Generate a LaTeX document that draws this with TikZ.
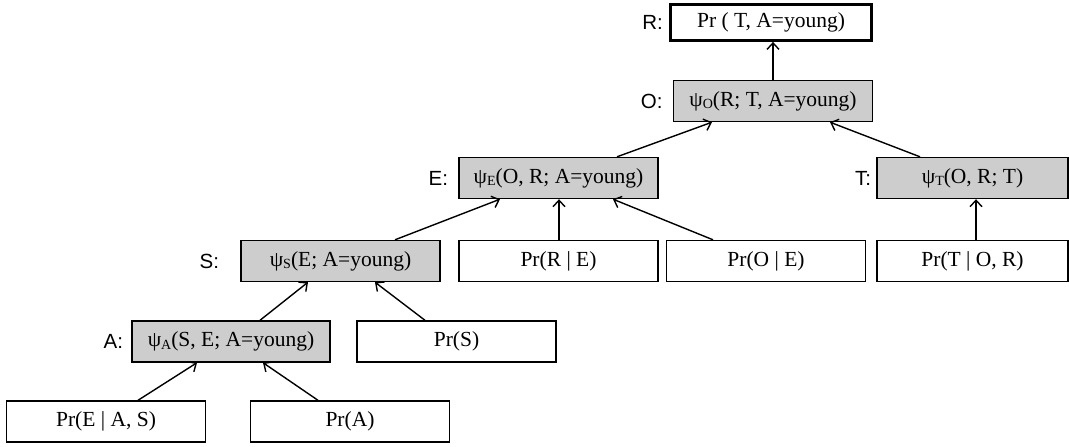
\documentclass[tikz,border=0pt]{standalone}
\usepackage{fontspec}
\setmainfont{Liberation Serif}
\newfontfamily\lblfont{Liberation Sans}
\usetikzlibrary{arrows.meta,positioning}
\definecolor{boxgray}{RGB}{205,205,205}
\newcommand{\psis}[1]{ψ\raisebox{-0.12em}{\fontsize{14}{14}\selectfont #1}}

\begin{document}
\begin{tikzpicture}[x=1pt, y=-1pt, >={Straight Barb[length=6.5pt,width=12pt]},
    every node/.style={font=\fontsize{21.5}{26}\selectfont},
    cpt/.style={draw, line width=1.4pt, fill=white, minimum width=199pt, minimum height=41pt, inner sep=0pt},
    fac/.style={cpt, fill=boxgray},
    lbl/.style={font=\lblfont\fontsize{20.5}{24}\selectfont, inner sep=0pt}]
                \useasboundingbox (0,0) rectangle (1069,447);

                \node[cpt, line width=2.8pt, minimum width=201pt, minimum height=36pt] (R) at (771,22.5) {Pr ( T, A=young)};
                \node[fac] (O) at (773,101)   {\psis{O}(R; T, A=young)};
                \node[fac] (E) at (558.5,178) {\psis{E}(O, R; A=young)};
                \node[fac, minimum width=191pt] (T) at (972.5,178) {\psis{T}(O, R; T)};
                \node[fac] (S) at (340.5,261) {\psis{S}(E; A=young)};
                \node[cpt] (pRE) at (558.5,261) {Pr(R | E)};
                \node[cpt] (pOE) at (766,261)   {Pr(O | E)};
                \node[cpt, minimum width=191pt] (pTOR) at (972.5,261) {Pr(T | O, R)};
                \node[fac, minimum width=198pt] (A) at (231,341.5) {\psis{A}(S, E; A=young)};
                \node[cpt] (pS) at (456.5,341.5) {Pr(S)};
                \node[cpt] (pEAS) at (106,421.5) {Pr(E | A, S)};
                \node[cpt] (pA) at (350,421.5)   {Pr(A)};

                \node[lbl, left=6pt of R]  (Rl) {R:};
                \node[lbl, left=10pt of O] (Ol) {O:};
                \node[lbl, left=10pt of E] (El) {E:};
                \node[lbl, left=5pt of T]  (Tl) {T:};
                \node[lbl, left=21pt of S] (Sl) {S:};
                \node[lbl, left=8pt of A]  (Al) {A:};

                \path[->, line width=1.4pt] (O.north) edge (O.north |- R.south);
                \path[->, line width=1.4pt] ([xshift=58.5pt]E.north) edge ([xshift=-61pt]O.south);
                \path[->, line width=1.4pt] ([xshift=-52.5pt]T.north) edge ([xshift=57pt]O.south);
                \path[->, line width=1.4pt] ([xshift=54.5pt]S.north) edge ([xshift=-58.5pt]E.south);
                \path[->, line width=1.4pt] ([xshift=0.5pt]pRE.north) edge ([xshift=0.5pt]E.south);
                \path[->, line width=1.4pt] ([xshift=-53pt]pOE.north) edge ([xshift=54.5pt]E.south);
                \path[->, line width=1.4pt] ([xshift=3.5pt]pTOR.north) edge ([xshift=3.5pt]T.south);
                \path[->, line width=1.4pt] ([xshift=29pt]A.north) edge ([xshift=-32.5pt]S.south);
                \path[->, line width=1.4pt] ([xshift=-31.5pt]pS.north) edge ([xshift=34.5pt]S.south);
                \path[->, line width=1.4pt] ([xshift=32pt]pEAS.north) edge ([xshift=-34pt]A.south);
                \path[->, line width=1.4pt] ([xshift=-32pt]pA.north) edge ([xshift=32pt]A.south);
            \end{tikzpicture}
\end{document}
